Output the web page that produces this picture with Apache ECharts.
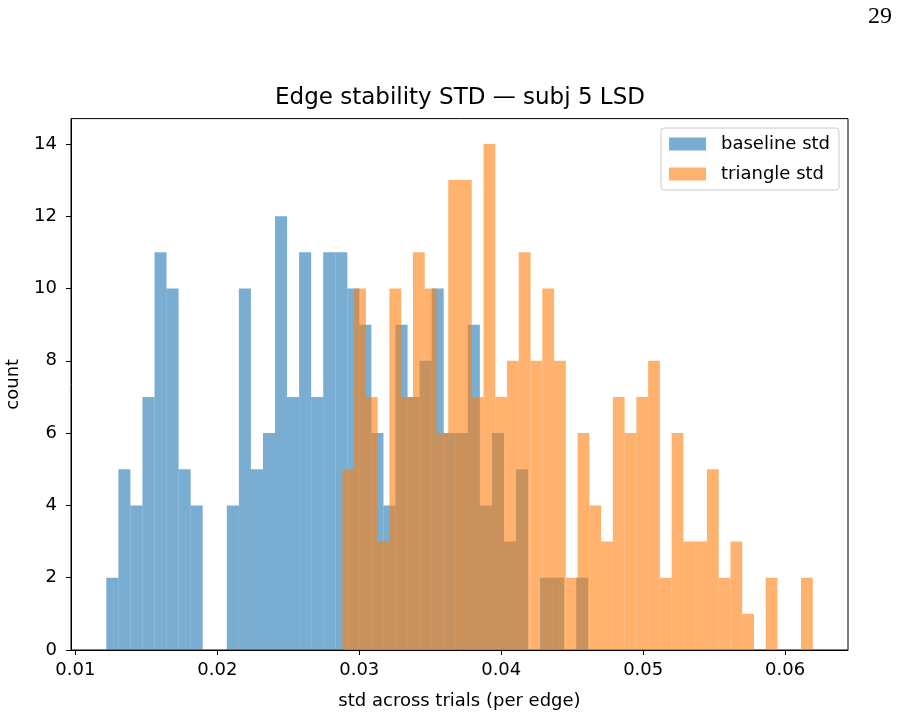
<!DOCTYPE html>
<html>
<head>
<meta charset="utf-8">
<script src="https://cdn.jsdelivr.net/npm/echarts@6/dist/echarts.min.js"></script>
<style>
  html, body { margin: 0; background: #fff; }
  #chart { width: 899px; height: 716px; }
</style>
</head>
<body>
<div id="chart"></div>
<script>
// 40 bins per series, edges span each series' own min..max
const baselineRange = [0.012178, 0.046135];
const triangleRange = [0.028812, 0.061947];
const baselineCounts = [2, 5, 4, 7, 11, 10, 5, 4, 0, 0,
  4, 10, 5, 6, 12, 7, 11, 7, 11, 11,
  10, 9, 6, 4, 9, 7, 8, 10, 6, 6,
  9, 4, 6, 3, 5, 0, 2, 2, 0, 2];
const triangleCounts = [5, 10, 7, 3, 10, 7, 11, 10, 6, 13,
  13, 7, 14, 7, 8, 11, 8, 10, 8, 2,
  6, 4, 3, 7, 6, 7, 8, 2, 6, 3,
  3, 5, 2, 3, 1, 0, 2, 0, 0, 2];
const xTicks = [0.01, 0.02, 0.03, 0.04, 0.05, 0.06];
const yTicks = [0, 2, 4, 6, 8, 10, 12, 14];

const blue = 'rgba(31,119,180,0.6)';
const orange = 'rgba(255,127,14,0.6)';
const font = 'DejaVu Sans';

function toBins(range, counts) {
  const w = (range[1] - range[0]) / counts.length;
  return counts.map((c, i) => [range[0] + i * w, range[0] + (i + 1) * w, c]);
}

function renderBar(params, api) {
  const topLeft = api.coord([api.value(0), api.value(2)]);
  const bottomRight = api.coord([api.value(1), 0]);
  return {
    type: 'rect',
    shape: {
      x: topLeft[0],
      y: topLeft[1],
      width: bottomRight[0] - topLeft[0],
      height: bottomRight[1] - topLeft[1],
    },
    style: { fill: api.visual('color') },
  };
}

const chart = echarts.init(document.getElementById('chart'));

const option = {
  animation: false,
  backgroundColor: '#fff',
  title: {
    text: 'Edge stability STD — subj 5 LSD',
    left: 460,
    top: 87,
    padding: 0,
    textAlign: 'center',
    textStyle: { fontFamily: font, fontSize: 23, fontWeight: 'normal', color: '#000' },
  },
  graphic: [{
    type: 'text',
    right: 7,
    top: 5,
    style: { text: '29', fontFamily: 'Liberation Serif', fontSize: 24, fill: '#000' },
  }],
  legend: {
    orient: 'vertical',
    right: 60,
    top: 128,
    padding: [7, 9, 7, 8],
    itemWidth: 37,
    itemHeight: 13,
    itemGap: 12,
    icon: 'rect',
    borderColor: '#cccccc',
    borderWidth: 1,
    borderRadius: 3,
    selectedMode: false,
    textStyle: { fontFamily: font, fontSize: 18, color: '#000', padding: [0, 0, 0, 10] },
    data: [
      { name: 'baseline std', itemStyle: { color: blue } },
      { name: 'triangle std', itemStyle: { color: orange } },
    ],
  },
  grid: {
    left: 71,
    right: 51,
    top: 118.6,
    bottom: 66,
    show: true,
    borderColor: '#000',
    borderWidth: 1,
    outerBoundsMode: 'none',
  },
  xAxis: {
    type: 'value',
    min: 0.00969,
    max: 0.06443,
    name: 'std across trials (per edge)',
    nameLocation: 'middle',
    nameGap: 42,
    nameTextStyle: { fontFamily: font, fontSize: 18, color: '#000' },
    axisLine: { show: true, lineStyle: { color: '#000', width: 1 } },
    axisTick: { show: true, length: 5, lineStyle: { color: '#000' }, customValues: xTicks },
    axisLabel: {
      customValues: xTicks,
      color: '#000',
      fontFamily: font,
      fontSize: 18,
      margin: 11,
      formatter: (v) => v.toFixed(2),
    },
    splitLine: { show: false },
  },
  yAxis: {
    type: 'value',
    min: 0,
    max: 14.7,
    name: 'count',
    nameLocation: 'middle',
    nameGap: 49,
    nameRotate: 90,
    nameTextStyle: { fontFamily: font, fontSize: 18, color: '#000' },
    axisLine: { show: true, lineStyle: { color: '#000', width: 1 } },
    axisTick: { show: true, length: 5, lineStyle: { color: '#000' }, customValues: yTicks },
    axisLabel: {
      customValues: yTicks,
      color: '#000',
      fontFamily: font,
      fontSize: 18,
      margin: 14,
    },
    splitLine: { show: false },
  },
  series: [
    {
      name: 'baseline std',
      type: 'custom',
      renderItem: renderBar,
      itemStyle: { color: blue },
      encode: { x: [0, 1], y: 2 },
      data: toBins(baselineRange, baselineCounts),
    },
    {
      name: 'triangle std',
      type: 'custom',
      renderItem: renderBar,
      itemStyle: { color: orange },
      encode: { x: [0, 1], y: 2 },
      data: toBins(triangleRange, triangleCounts),
    },
  ],
};

chart.setOption(option);
</script>
</body>
</html>
